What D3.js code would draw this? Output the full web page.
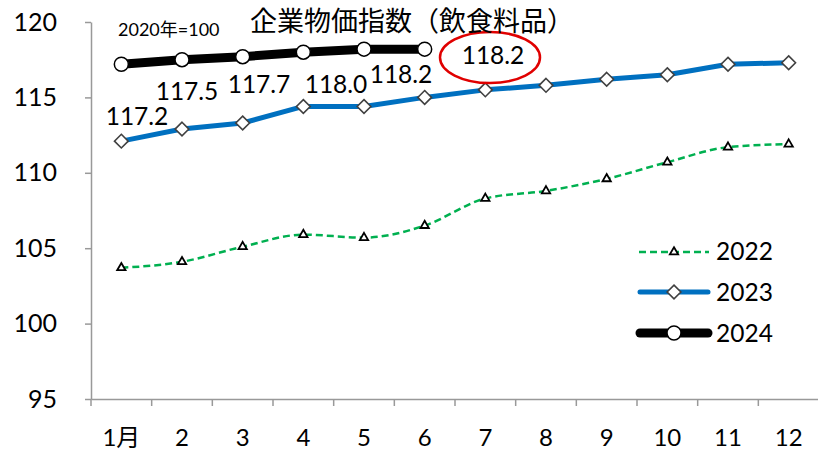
<!DOCTYPE html>
<html><head><meta charset="utf-8">
<script src="https://cdn.jsdelivr.net/npm/d3@7"></script>
<style>body{margin:0;background:#fff}svg{display:block}</style>
</head><body><svg id="c" width="818" height="452"></svg>
<script>
const months = ["1月","2","3","4","5","6","7","8","9","10","11","12"];
const s2022 = [103.7,104.1,105.1,105.9,105.7,106.5,108.3,108.8,109.6,110.7,111.7,111.9];
const s2023 = [112.1,112.9,113.3,114.4,114.4,115.0,115.5,115.8,116.2,116.5,117.2,117.3];
const s2024 = [117.2,117.5,117.7,118.0,118.2,118.2];
const yTicks = [95,100,105,110,115,120];
const labels2024 = ["117.2","117.5","117.7","118.0","118.2"];
const latestLabel = "118.2";
const title = "企業物価指数（飲食料品）";
const baseNote = "2020年=100";
const seriesNames = ["2022","2023","2024"];

const svg = d3.select("#c");
const font = "Lato, 'Noto Sans CJK JP', sans-serif";
const x = d3.scaleBand().domain(months).range([91, 819]);
const y = d3.scaleLinear().domain([95,120]).range([399, 22]);
const cx = (i) => x(months[i]) + x.bandwidth()/2;

// axes
const yAxis = svg.append("g").attr("transform","translate(91,0)")
  .call(d3.axisLeft(y).tickValues(yTicks).tickSize(6).tickSizeOuter(0));
yAxis.select(".domain").attr("stroke","#999").attr("stroke-width",1.5);
yAxis.selectAll(".tick line").attr("stroke","#999").attr("stroke-width",1.5);
yAxis.selectAll(".tick text").attr("x",-34).attr("font-size",25).attr("font-family",font).attr("fill","#000");

const xAxis = svg.append("g").attr("transform","translate(0,399)")
  .call(d3.axisBottom(x).tickSize(0).tickSizeOuter(0));
xAxis.select(".domain").attr("stroke","#999").attr("stroke-width",1.5);
xAxis.selectAll(".tick text").attr("y",30).attr("font-size",24).attr("font-family",font).attr("fill","#000");
// boundary ticks
const bounds = months.map((m)=>x(m)).concat([x.range()[1]]);
svg.append("g").selectAll("line").data(bounds).join("line")
  .attr("x1",d=>d).attr("x2",d=>d).attr("y1",399).attr("y2",406)
  .attr("stroke","#999").attr("stroke-width",1.5);

const lineC = d3.line().x((d,i)=>cx(i)).y(d=>y(d)).curve(d3.curveMonotoneX);
const lineL = d3.line().x((d,i)=>cx(i)).y(d=>y(d));
// 2022
svg.append("path").datum(s2022).attr("d", lineC)
  .attr("fill","none").attr("stroke","#00B050").attr("stroke-width",2.5).attr("stroke-dasharray","7,4");
const tri = d3.symbol().type(d3.symbolTriangle).size(30);
svg.append("g").selectAll("path").data(s2022).join("path")
  .attr("d",tri).attr("transform",(d,i)=>`translate(${cx(i)},${y(d)})`)
  .attr("fill","#fff").attr("stroke","#000").attr("stroke-width",1.8);

// 2023
svg.append("path").datum(s2023).attr("d", lineL)
  .attr("fill","none").attr("stroke","#0070C0").attr("stroke-width",5).attr("stroke-linejoin","round");
const dia = d3.symbol().type(d3.symbolDiamond2).size(120);
svg.append("g").selectAll("path").data(s2023).join("path")
  .attr("d",dia).attr("transform",(d,i)=>`translate(${cx(i)},${y(d)})`)
  .attr("fill","#fff").attr("stroke","#404040").attr("stroke-width",1.6);

// 2024
svg.append("path").datum(s2024).attr("d", lineL)
  .attr("fill","none").attr("stroke","#000").attr("stroke-width",9).attr("stroke-linejoin","round");
svg.append("g").selectAll("circle").data(s2024).join("circle")
  .attr("cx",(d,i)=>cx(i)).attr("cy",d=>y(d)).attr("r",7)
  .attr("fill","#fff").attr("stroke","#000").attr("stroke-width",1.5);

// labels for 2024
const labelPos = [[137,125],[187,100],[259,93],[336,93],[401,83]];
svg.append("g").selectAll("text").data(labels2024).join("text")
  .attr("x",(d,i)=>labelPos[i][0]).attr("y",(d,i)=>labelPos[i][1])
  .attr("text-anchor","middle").attr("font-size",24.5).attr("font-family",font).text(d=>d);

// latest highlighted label
svg.append("ellipse").attr("cx",490).attr("cy",57.5).attr("rx",50).attr("ry",25.5)
  .attr("fill","none").attr("stroke","#e00000").attr("stroke-width",2.5);
svg.append("text").attr("x",493).attr("y",64).attr("text-anchor","middle")
  .attr("font-size",24.5).attr("font-family",font).text(latestLabel);

// titles
svg.append("text").attr("x",412).attr("y",31).attr("text-anchor","middle")
  .attr("font-size",27).attr("font-family","'Noto Sans CJK JP', sans-serif").text(title);
svg.append("text").attr("x",118).attr("y",36)
  .attr("font-size",18).attr("font-family",font).text(baseNote);

// legend
const lg = svg.append("g");
const ly = [252,292,333];
lg.append("line").attr("x1",639).attr("x2",709).attr("y1",ly[0]).attr("y2",ly[0])
  .attr("stroke","#00B050").attr("stroke-width",2.5).attr("stroke-dasharray","7,4");
lg.append("path").attr("d",tri).attr("transform",`translate(674,${ly[0]})`)
  .attr("fill","#fff").attr("stroke","#000").attr("stroke-width",1.8);
lg.append("line").attr("x1",640).attr("x2",708).attr("y1",ly[1]).attr("y2",ly[1])
  .attr("stroke","#0070C0").attr("stroke-width",5).attr("stroke-linecap","round");
lg.append("path").attr("d",dia).attr("transform",`translate(674,${ly[1]})`)
  .attr("fill","#fff").attr("stroke","#404040").attr("stroke-width",1.6);
lg.append("line").attr("x1",640).attr("x2",708).attr("y1",ly[2]).attr("y2",ly[2])
  .attr("stroke","#000").attr("stroke-width",9).attr("stroke-linecap","round");
lg.append("circle").attr("cx",674).attr("cy",ly[2]).attr("r",7)
  .attr("fill","#fff").attr("stroke","#000").attr("stroke-width",1.5);
lg.selectAll("text").data(seriesNames).join("text")
  .attr("x",716).attr("y",(d,i)=>[260,301,342][i]).attr("font-size",24.5).attr("font-family",font).text(d=>d);
</script></body></html>
